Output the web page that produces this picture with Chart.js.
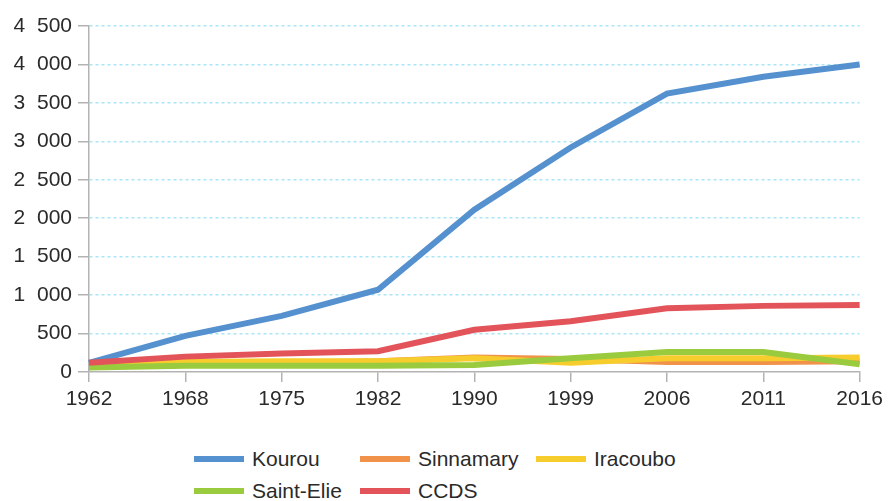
<!DOCTYPE html>
<html>
<head>
<meta charset="utf-8">
<script src="https://cdn.jsdelivr.net/npm/chart.js@4"></script>
<style>
  html, body { margin: 0; padding: 0; background: #fff; }
  #wrap { position: relative; width: 888px; height: 501px; font-family: "Liberation Sans", Arial, sans-serif; }
  #chart { position: absolute; left: 0; top: 0; }
  #legend { position: absolute; left: 194px; top: 446px; display: grid;
            grid-template-columns: 166px 176px 176px; row-gap: 6px; }
  .item { display: flex; align-items: center; height: 26px; font-size: 21px; color: #2a2a2a; white-space: nowrap; }
  .swatch { width: 50px; height: 6px; margin-right: 8px; }
</style>
</head>
<body>
<div id="wrap">
  <canvas id="chart" width="888" height="420"></canvas>
  <div id="legend"></div>
</div>
<script>
// years along the x axis
const years = ["1962", "1968", "1975", "1982", "1990", "1999", "2006", "2011", "2016"]

const seriesNames = ["Kourou", "Sinnamary", "Iracoubo", "Saint-Elie", "CCDS"]
const kourou    = [120, 470, 730, 1070, 2110, 2920, 3620, 3840, 4000]
const sinnamary = [80, 110, 120, 140, 190, 170, 130, 130, 140]
const iracoubo  = [70, 130, 140, 140, 180, 120, 180, 180, 190]
const saintElie = [60, 80, 80, 80, 90, 180, 260, 260, 100]
const ccds      = [120, 200, 240, 270, 550, 660, 830, 860, 870]

const yTicks = [0, 500, 1000, 1500, 2000, 2500, 3000, 3500, 4000, 4500]

const colors = ["#5591cf", "#f0924a", "#f7cd2e", "#9acb3e", "#e2545a"]
const seriesData = [kourou, sinnamary, iracoubo, saintElie, ccds]
// drawing order: later series sit on top, like the original
const drawOrder = [4, 3, 2, 1, 0]

// thousands separated by a figure space (wide, like the original)
const fmt = v => String(v).replace(/\B(?=(\d{3})+(?!\d))/g, "\u2007")

const datasets = seriesNames.map((name, i) => ({
  label: name,
  data: seriesData[i],
  borderColor: colors[i],
  backgroundColor: colors[i],
  borderWidth: 6,
  pointRadius: 0,
  tension: 0,
  fill: false,
  order: drawOrder[i]
}))

const chart = new Chart(document.getElementById("chart"), {
  type: "line",
  data: { labels: years, datasets: datasets },
  options: {
    responsive: false,
    animation: false,
    layout: { padding: { left: 0, right: 27, top: 26, bottom: 0 } },
    plugins: { legend: { display: false }, tooltip: { enabled: false } },
    scales: {
      x: {
        offset: false,
        grid: { display: true, drawOnChartArea: false, tickColor: "#b3b3b3", tickLength: 10, lineWidth: 1.5 },
        border: { color: "#b3b3b3", width: 1.5 },
        ticks: { color: "#2a2a2a", font: { family: "Liberation Sans", size: 21 }, padding: 5, maxRotation: 0, autoSkip: false },
        afterFit: s => { s.height = 48 }
      },
      y: {
        min: 0,
        max: 4500,
        afterBuildTicks: s => { s.ticks = yTicks.map(v => ({ value: v })) },
        grid: {
          color: ctx => ctx.tick && ctx.tick.value === 0 ? "rgba(0,0,0,0)" : "#a9e6f7",
          tickColor: "#b3b3b3",
          tickLength: 11,
          lineWidth: 1.5
        },
        border: { color: "#b3b3b3", width: 1.5, dash: [3, 3] },
        ticks: { color: "#2a2a2a", font: { family: "Liberation Sans", size: 21 }, padding: 6, callback: v => fmt(v) },
        afterFit: s => { s.width = 89 }
      }
    }
  }
})

// legend laid out as a grid, like the original
const legend = document.getElementById("legend")
chart.data.datasets.forEach(ds => {
  const item = document.createElement("div")
  item.className = "item"
  const sw = document.createElement("span")
  sw.className = "swatch"
  sw.style.background = ds.borderColor
  item.appendChild(sw)
  item.appendChild(document.createTextNode(ds.label))
  legend.appendChild(item)
})
</script>
</body>
</html>
